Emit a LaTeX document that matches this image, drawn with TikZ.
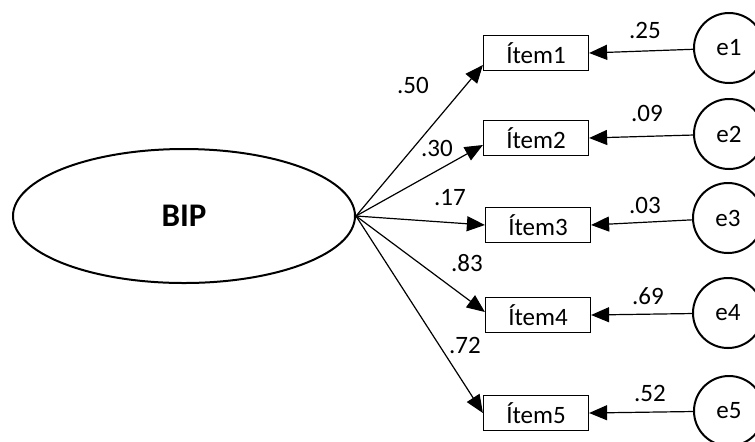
\documentclass[tikz,border=0pt]{standalone}
\usepackage{fontspec}
\setmainfont{Carlito}
\usetikzlibrary{shapes.geometric,arrows.meta}

\tikzset{
  latent/.style={draw, ellipse, line width=1pt, minimum width=171pt,
    minimum height=67pt, inner sep=0pt, font=\fontsize{16.5}{20}\selectfont\bfseries},
  item/.style={draw, rectangle, line width=0.6pt, minimum width=52.5pt,
    minimum height=17.5pt, inner sep=0pt, font=\fontsize{12.5}{14}\selectfont},
  err/.style={draw, circle, line width=1pt, minimum size=35pt, inner sep=0pt,
    font=\fontsize{12.5}{14}\selectfont},
  coef/.style={inner sep=0pt, font=\fontsize{12.5}{14}\selectfont},
  load/.style={-{Triangle[length=9pt,width=7.5pt]}, line width=0.6pt}
}

\begin{document}
\begin{tikzpicture}[x=0.5pt, y=-0.5pt]

  \useasboundingbox (0,0) rectangle (755,441);

  \node[latent] (bip) at (184,216) {BIP};

  \node[item] (item1) at (536,53)  {Ítem1};
  \node[item] (item2) at (536,138) {Ítem2};
  \node[item] (item3) at (538,225) {Ítem3};
  \node[item] (item4) at (538,315) {Ítem4};
  \node[item] (item5) at (536,413) {Ítem5};

  \node[err] (e1) at (729,48)  {e1};
  \node[err] (e2) at (729,134) {e2};
  \node[err] (e3) at (728,218) {e3};
  \node[err] (e4) at (728,313) {e4};
  \node[err] (e5) at (729,411) {e5};

  \draw[load] (bip.east) -- ([yshift=-6pt]item1.west);
  \draw[load] (bip.east) -- ([yshift=-3.5pt]item2.west);
  \draw[load] (bip.east) -- (item3.west);
  \draw[load] (bip.east) -- ([yshift=1.5pt]item4.west);
  \draw[load] (bip.east) -- (item5.west);

  \draw[load] (e1) -- (item1.east);
  \draw[load] (e2) -- (item2.east);
  \draw[load] (e3) -- (item3.east);
  \draw[load] (e4) -- (item4.east);
  \draw[load] (e5) -- (item5.east);

  \node[coef] (w1) at (413,85)  {.50};
  \node[coef] (w2) at (437,148) {.30};
  \node[coef] (w3) at (450,198) {.17};
  \node[coef] (w4) at (467,263) {.83};
  \node[coef] (w5) at (465,345) {.72};

  \node[coef] (v1) at (645,30)  {.25};
  \node[coef] (v2) at (647,113) {.09};
  \node[coef] (v3) at (645,205) {.03};
  \node[coef] (v4) at (648,296) {.69};
  \node[coef] (v5) at (650,393) {.52};

\end{tikzpicture}
\end{document}
